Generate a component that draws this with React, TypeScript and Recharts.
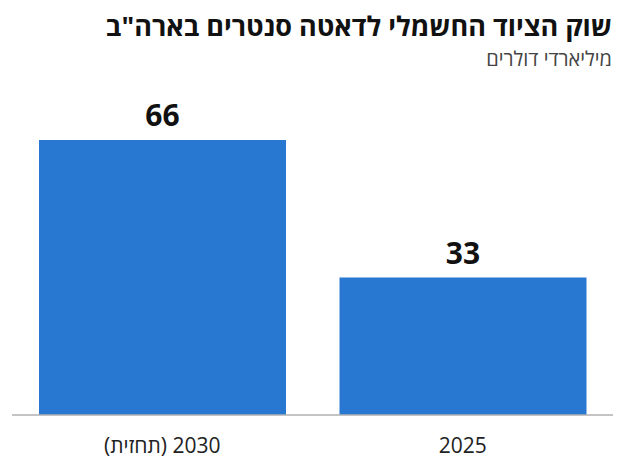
import React from "react"
import { Bar, BarChart, LabelList, XAxis, YAxis } from "recharts"

const categories = ["2025", "2030 (תחזית)"]
const values = [33, 66]

const title = 'שוק הציוד החשמלי לדאטה סנטרים בארה"ב'
const subtitle = "מיליארדי דולרים"

const data = categories.map((name, i) => ({ name, value: values[i] }))

const font = '"Open Sans", "Liberation Sans", sans-serif'

// RTL tick so "(תחזית)" lands on the left of the year, like the original
function RtlTick(props: any) {
  const { x, y, payload } = props
  return (
    <text
      x={x}
      y={y}
      dy={20}
      textAnchor="middle"
      direction="rtl"
      style={{ direction: "rtl", unicodeBidi: "embed" }}
      fontSize={21}
      fill="#222"
      fontFamily={font}
    >
      {payload.value}
    </text>
  )
}

export default function App() {
  return (
    <div style={{ position: "absolute", left: 0, top: 0, width: 627, height: 470, background: "#fff", fontFamily: font }}>
      <div
        style={{
          position: "absolute",
          right: 15,
          top: 8,
          direction: "rtl",
          fontSize: 27,
          fontWeight: 700,
          color: "#111",
          lineHeight: "36px",
          whiteSpace: "nowrap",
        }}
      >
        {title}
      </div>
      <div
        style={{
          position: "absolute",
          right: 15,
          top: 45,
          direction: "rtl",
          fontSize: 20,
          color: "#444",
          lineHeight: "28px",
          whiteSpace: "nowrap",
        }}
      >
        {subtitle}
      </div>
      <BarChart
        width={627}
        height={470}
        data={data}
        margin={{ top: 140, right: 14, bottom: 0, left: 12 }}
        barCategoryGap={27}
      >
        <XAxis
          dataKey="name"
          reversed
          height={55}
          tickLine={false}
          axisLine={{ stroke: "#b0b0b0", strokeWidth: 1.5 }}
          tickMargin={12}
          tick={<RtlTick />}
        />
        <YAxis hide domain={[0, 66]} />
        <Bar dataKey="value" fill="#2878d2" isAnimationActive={false}>
          <LabelList
            dataKey="value"
            position="top"
            offset={14}
            style={{ fontSize: 30, fontWeight: 700, fill: "#111", fontFamily: font }}
          />
        </Bar>
      </BarChart>
    </div>
  )
}
